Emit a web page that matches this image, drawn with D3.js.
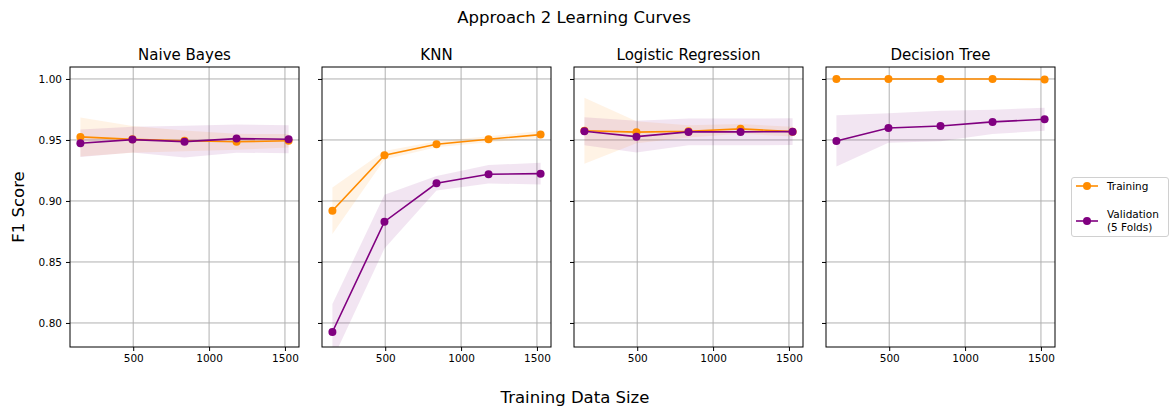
<!DOCTYPE html>
<html>
<head>
<meta charset="utf-8">
<script src="https://cdn.jsdelivr.net/npm/d3@7"></script>
<style>
  html, body { margin: 0; padding: 0; background: #fff; }
  svg { display: block; font-family: "DejaVu Sans", sans-serif; }
</style>
</head>
<body>
<svg id="chart" width="1172" height="410"></svg>
<script>
// Training set sizes used for every model
const trainSizes = [152, 495, 838, 1181, 1524];

const models = ["Naive Bayes", "KNN", "Logistic Regression", "Decision Tree"];

// Mean F1 scores and standard deviations per model
const trainMean = [
  [0.9525, 0.9505, 0.9493, 0.9485, 0.9493],
  [0.8920, 0.9375, 0.9465, 0.9506, 0.9544],
  [0.9576, 0.9564, 0.9571, 0.9591, 0.9568],
  [1.0000, 1.0000, 1.0000, 1.0000, 0.9995]
];
const trainStd = [
  [0.0160, 0.0110, 0.0085, 0.0065, 0.0055],
  [0.0190, 0.0035, 0.0025, 0.0025, 0.0030],
  [0.0270, 0.0090, 0.0050, 0.0040, 0.0040],
  [0.0005, 0.0005, 0.0005, 0.0005, 0.0008]
];
const valMean = [
  [0.9473, 0.9503, 0.9486, 0.9511, 0.9506],
  [0.7926, 0.8830, 0.9145, 0.9219, 0.9224],
  [0.9571, 0.9527, 0.9566, 0.9566, 0.9568],
  [0.9492, 0.9598, 0.9615, 0.9648, 0.9670]
];
const valStd = [
  [0.0112, 0.0105, 0.0130, 0.0115, 0.0115],
  [0.0230, 0.0220, 0.0060, 0.0075, 0.0090],
  [0.0115, 0.0130, 0.0110, 0.0110, 0.0110],
  [0.0210, 0.0120, 0.0125, 0.0100, 0.0095]
];

const yTicks = [0.80, 0.85, 0.90, 0.95, 1.00];
const xTicks = [500, 1000, 1500];

const colorTrain = "#ff8c00";
const colorVal = "#800080";

const svg = d3.select("#chart");

const panelLeft = [70, 322, 574, 826];
const panelWidth = 229;
const plotTop = 67, plotBottom = 347;

const y = d3.scaleLinear().domain([0.7803, 1.0098]).range([plotBottom, plotTop]);
const xPad = (trainSizes[4] - trainSizes[0]) * 0.05;

svg.append("text")
  .attr("x", 574).attr("y", 23)
  .attr("text-anchor", "middle")
  .attr("font-size", 16.5)
  .attr("fill", "#000")
  .text("Approach 2 Learning Curves");

models.forEach((name, i) => {
  const x = d3.scaleLinear()
    .domain([trainSizes[0] - xPad, trainSizes[4] + xPad])
    .range([panelLeft[i], panelLeft[i] + panelWidth]);
  const g = svg.append("g");

  // grid
  g.selectAll(".gx").data(xTicks).join("line")
    .attr("x1", d => x(d)).attr("x2", d => x(d))
    .attr("y1", plotTop).attr("y2", plotBottom)
    .attr("stroke", "#b0b0b0").attr("stroke-width", 1);
  g.selectAll(".gy").data(yTicks).join("line")
    .attr("x1", panelLeft[i]).attr("x2", panelLeft[i] + panelWidth)
    .attr("y1", d => y(d)).attr("y2", d => y(d))
    .attr("stroke", "#b0b0b0").attr("stroke-width", 1);

  const clipId = "clip" + i;
  svg.append("clipPath").attr("id", clipId).append("rect")
    .attr("x", panelLeft[i]).attr("y", plotTop)
    .attr("width", panelWidth).attr("height", plotBottom - plotTop);
  const plot = g.append("g").attr("clip-path", `url(#${clipId})`);

  const series = [
    { mean: trainMean[i], std: trainStd[i], color: colorTrain },
    { mean: valMean[i], std: valStd[i], color: colorVal }
  ];

  const area = d3.area()
    .x(d => x(d.n))
    .y0(d => y(d.m - d.s))
    .y1(d => y(d.m + d.s));
  const line = d3.line().x(d => x(d.n)).y(d => y(d.m));

  series.forEach(s => {
    const pts = trainSizes.map((n, k) => ({ n, m: s.mean[k], s: s.std[k] }));
    plot.append("path").datum(pts)
      .attr("d", area)
      .attr("fill", s.color).attr("fill-opacity", 0.1);
  });
  series.forEach(s => {
    const pts = trainSizes.map((n, k) => ({ n, m: s.mean[k], s: s.std[k] }));
    plot.append("path").datum(pts)
      .attr("d", line)
      .attr("fill", "none").attr("stroke", s.color).attr("stroke-width", 1.6);
    plot.selectAll(null).data(pts).join("circle")
      .attr("cx", d => x(d.n)).attr("cy", d => y(d.m))
      .attr("r", 4).attr("fill", s.color);
  });

  // axes
  const xAxis = d3.axisBottom(x).tickValues(xTicks).tickSize(4).tickPadding(4).tickFormat(d3.format("d"));
  const gx = g.append("g").attr("transform", `translate(0,${plotBottom})`).call(xAxis);
  const yAxis = d3.axisLeft(y).tickValues(yTicks).tickSize(4).tickPadding(4)
    .tickFormat(i === 0 ? d3.format(".2f") : () => "");
  const gy = g.append("g").attr("transform", `translate(${panelLeft[i]},0)`).call(yAxis);
  [gx, gy].forEach(a => {
    a.select(".domain").remove();
    a.selectAll("text").attr("font-size", 10.5).attr("font-family", "DejaVu Sans").attr("fill", "#000");
    a.selectAll("line").attr("stroke", "#000").attr("stroke-width", 1);
  });

  g.append("rect")
    .attr("x", panelLeft[i]).attr("y", plotTop)
    .attr("width", panelWidth).attr("height", plotBottom - plotTop)
    .attr("fill", "none").attr("stroke", "#000").attr("stroke-width", 1);

  g.append("text")
    .attr("x", panelLeft[i] + panelWidth / 2).attr("y", 60)
    .attr("text-anchor", "middle")
    .attr("font-size", 15)
    .attr("fill", "#000")
    .text(name);
});

svg.append("text")
  .attr("x", 575).attr("y", 403)
  .attr("text-anchor", "middle")
  .attr("font-size", 16.5)
  .attr("fill", "#000")
  .text("Training Data Size");

svg.append("text")
  .attr("transform", "translate(24,207) rotate(-90)")
  .attr("text-anchor", "middle")
  .attr("font-size", 16.5)
  .attr("fill", "#000")
  .text("F1 Score");

// legend
const lg = svg.append("g");
lg.append("rect")
  .attr("x", 1071.5).attr("y", 177.5).attr("width", 97).attr("height", 59)
  .attr("rx", 2.5).attr("fill", "#fff").attr("stroke", "#d0d0d0").attr("stroke-width", 1);
const legendItems = [
  { label: ["Training"], color: colorTrain, y: 186 },
  { label: ["Validation", "(5 Folds)"], color: colorVal, y: 221 }
];
legendItems.forEach(it => {
  lg.append("line")
    .attr("x1", 1076).attr("x2", 1098).attr("y1", it.y).attr("y2", it.y)
    .attr("stroke", it.color).attr("stroke-width", 1.6);
  lg.append("circle").attr("cx", 1087).attr("cy", it.y).attr("r", 4).attr("fill", it.color);
  const t = lg.append("text")
    .attr("x", 1107)
    .attr("font-size", 10.5)
    .attr("fill", "#000");
  if (it.label.length === 1) {
    t.attr("y", it.y + 4).text(it.label[0]);
  } else {
    t.append("tspan").attr("x", 1107).attr("y", it.y - 3).text(it.label[0]);
    t.append("tspan").attr("x", 1107).attr("y", it.y + 9.5).text(it.label[1]);
  }
});
</script>
</body>
</html>
